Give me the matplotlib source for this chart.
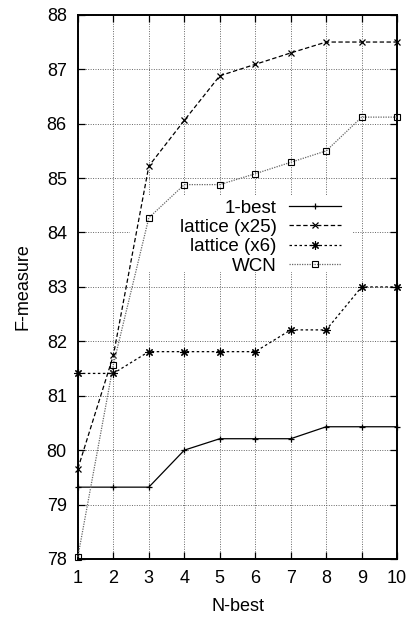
import matplotlib
matplotlib.use("Agg")
import matplotlib.pyplot as plt
from matplotlib.patches import Rectangle

plt.rcParams['font.family'] = ['Liberation Sans', 'DejaVu Sans']

n_best = [1, 2, 3, 4, 5, 6, 7, 8, 9, 10]
one_best = [79.32, 79.32, 79.32, 80.0, 80.21, 80.21, 80.21, 80.43, 80.43, 80.43]
lattice_x25 = [79.66, 81.74, 85.22, 86.06, 86.88, 87.09, 87.30, 87.50, 87.50, 87.50]
lattice_x6 = [81.41, 81.41, 81.81, 81.81, 81.81, 81.81, 82.21, 82.21, 83.0, 83.0]
wcn = [78.04, 81.57, 84.27, 84.88, 84.88, 85.08, 85.29, 85.50, 86.12, 86.12]

fig = plt.figure(figsize=(4.12, 6.18), dpi=100)
ax = fig.add_axes([0.189, 0.0955, 0.775, 0.8805])

ax.set_xlim(1, 10)
ax.set_ylim(78, 88)
ax.set_xticks(n_best)
ax.set_yticks(range(78, 89))
ax.set_axisbelow(True)
ax.grid(True, color='#666666', linestyle=(0, (1, 1.5)), linewidth=0.7)

# opaque key area hides the grid but not the curves
ax.add_patch(Rectangle((0.163, 0.528), 0.696, 0.141, transform=ax.transAxes,
                       facecolor='white', edgecolor='none', zorder=1))

kw = dict(linewidth=0.9, clip_on=False, zorder=3)
ax.plot(n_best, one_best, color='black', linestyle='-', marker='+',
        markersize=5, markeredgewidth=0.9, label='1-best', **kw)
ax.plot(n_best, lattice_x25, color='black', linestyle=(0, (3.5, 2)), marker='x',
        markersize=5, markeredgewidth=0.9, label='lattice (x25)', **kw)
ax.plot(n_best, lattice_x6, color='black', linestyle=(0, (2, 2)), marker=(8, 2, 0),
        markersize=6, markeredgewidth=0.8, label='lattice (x6)', **kw)
ax.plot(n_best, wcn, color='#666666', linestyle=(0, (1, 1)), marker='s',
        markersize=5, markerfacecolor='none', markeredgecolor='black',
        markeredgewidth=0.8, label='WCN', **kw)

leg = ax.legend(loc='upper right', bbox_to_anchor=(0.855, 0.678), frameon=False,
                markerfirst=False, numpoints=1, handlelength=2.8,
                handletextpad=0.65, labelspacing=0.12, fontsize=13.5,
                borderpad=0.0)

ax.tick_params(direction='in', length=5, width=0.9, top=True, right=True,
               labelsize=13, pad=8)
for s in ax.spines.values():
    s.set_linewidth(1.4)

ax.set_xlabel('N-best', fontsize=13, labelpad=8)
ax.set_ylabel('F-measure', fontsize=13, labelpad=11)

fig.savefig('out.png', dpi=100)
